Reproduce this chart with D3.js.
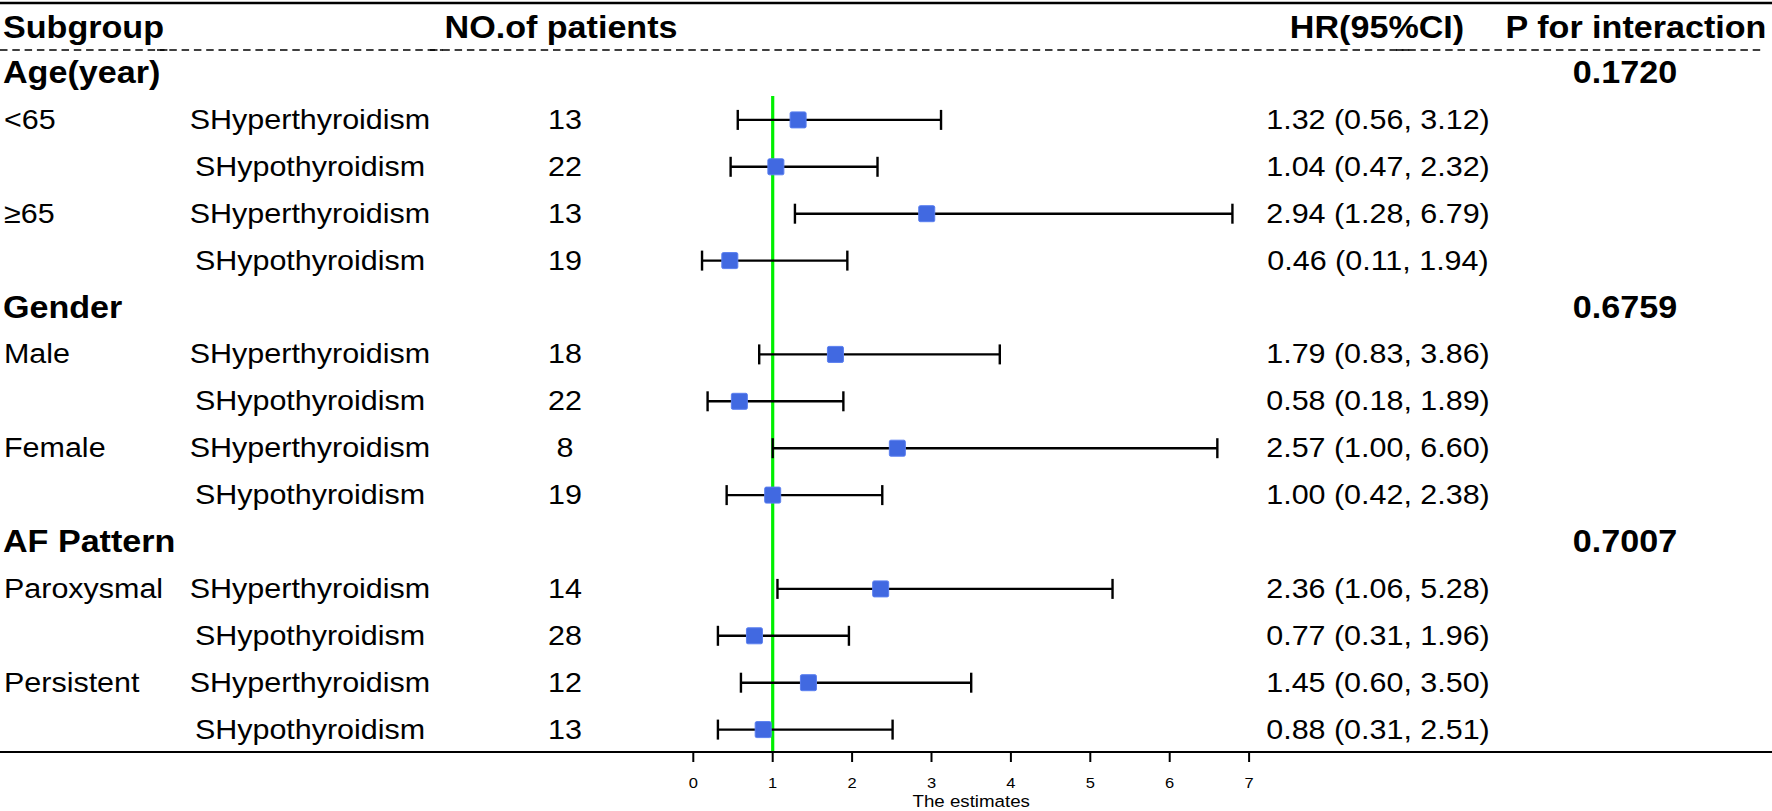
<!DOCTYPE html>
<html>
<head>
<meta charset="utf-8">
<script src="https://cdn.jsdelivr.net/npm/d3@7"></script>
<style>
  html, body { margin: 0; padding: 0; background: #fff; }
  svg { display: block; font-family: "Liberation Sans", Arial, sans-serif; }
</style>
</head>
<body>
<script>
// chart data
var groups = ["Age(year)", "Gender", "AF Pattern"];
var pInteraction = ["0.1720", "0.6759", "0.7007"];
var levels = ["<65", "\u226565", "Male", "Female", "Paroxysmal", "Persistent"];
var thyroid = ["SHyperthyroidism", "SHypothyroidism"];
var patients = [13, 22, 13, 19, 18, 22, 8, 19, 14, 28, 12, 13];
var hr    = [1.32, 1.04, 2.94, 0.46, 1.79, 0.58, 2.57, 1.00, 2.36, 0.77, 1.45, 0.88];
var lower = [0.56, 0.47, 1.28, 0.11, 0.83, 0.18, 1.00, 0.42, 1.06, 0.31, 0.60, 0.31];
var upper = [3.12, 2.32, 6.79, 1.94, 3.86, 1.89, 6.60, 2.38, 5.28, 1.96, 3.50, 2.51];
var ticks = [0, 1, 2, 3, 4, 5, 6, 7];
var headers = ["Subgroup", "NO.of patients", "HR(95%CI)", "P for interaction"];

var W = 1772, H = 811;
var sx = 1.1; // text in the reference is a bit wider than tall

// build the table rows
var rows = [];
groups.forEach(function(g, gi) {
  rows.push({ type: "group", label: g, p: pInteraction[gi] });
  for (var li = 0; li < 2; li++) {
    for (var ti = 0; ti < 2; ti++) {
      var k = gi * 4 + li * 2 + ti;
      rows.push({
        type: "item",
        level: ti === 0 ? levels[gi * 2 + li] : "",
        thy: thyroid[ti],
        n: patients[k], hr: hr[k], lo: lower[k], hi: upper[k]
      });
    }
  }
});

var svg = d3.select("body").append("svg")
  .attr("width", W)
  .attr("height", H);

var x = d3.scaleLinear().domain([0, 7]).range([693.3, 693.3 + 7 * 79.4]);
var y = d3.scaleLinear().domain([0, rows.length - 1]).range([72, 72 + (rows.length - 1) * 46.9]);
var axisY = 752;

function txt(g, s, px, py, size, bold, anchor) {
  return g.append("text")
    .attr("transform", "translate(" + px + "," + py + ") scale(" + sx + ",1)")
    .attr("text-anchor", anchor || "start")
    .style("font-size", size + "px")
    .style("font-weight", bold ? "bold" : "normal")
    .attr("fill", "#000")
    .text(s);
}

// top rule
svg.append("line")
  .attr("x1", 0).attr("x2", W).attr("y1", 3).attr("y2", 3)
  .attr("stroke", "#000").attr("stroke-width", 2.5);

// header
var hdr = svg.append("g");
txt(hdr, headers[0], 3, 38, 31, true, "start");
txt(hdr, headers[1], 561, 38, 31, true, "middle");
txt(hdr, headers[2], 1377, 38, 31, true, "middle");
txt(hdr, headers[3], 1636, 38, 31, true, "middle");

// dashed line under header (one per column, so they overlap a little)
[[0, 172], [157, 443], [430, 1413], [1396, 1762]].forEach(function(s) {
  svg.append("line")
    .attr("x1", s[0]).attr("x2", s[1]).attr("y1", 50).attr("y2", 50)
    .attr("stroke", "#000").attr("stroke-width", 1.5)
    .attr("stroke-dasharray", "7.5,4.8");
});

// reference line at 1
svg.append("line")
  .attr("x1", x(1)).attr("x2", x(1))
  .attr("y1", 96).attr("y2", axisY)
  .attr("stroke", "#00f000").attr("stroke-width", 3.2);

// text columns
var tbl = svg.append("g");
rows.forEach(function(r, i) {
  var yy = y(i);
  if (r.type === "group") {
    txt(tbl, r.label, 3, yy + 11, 31, true, "start");
    txt(tbl, r.p, 1625, yy + 11, 31, true, "middle");
  } else {
    if (r.level) txt(tbl, r.level, 4, yy + 10, 27.7, false, "start");
    txt(tbl, r.thy, 310, yy + 10, 27.7, false, "middle");
    txt(tbl, r.n, 565, yy + 10, 27.7, false, "middle");
    txt(tbl, r.hr.toFixed(2) + " (" + r.lo.toFixed(2) + ", " + r.hi.toFixed(2) + ")",
      1378, yy + 10, 27.7, false, "middle");
  }
});

// error bars and markers
var items = rows.map(function(r, i) { return { r: r, i: i }; })
  .filter(function(d) { return d.r.type === "item"; });

var bars = svg.append("g").attr("stroke", "#000").attr("stroke-width", 2.4);
items.forEach(function(d) {
  var yy = y(d.i) + 1;
  bars.append("line")
    .attr("x1", x(d.r.lo)).attr("x2", x(d.r.hi)).attr("y1", yy).attr("y2", yy);
  [d.r.lo, d.r.hi].forEach(function(v) {
    bars.append("line")
      .attr("x1", x(v)).attr("x2", x(v)).attr("y1", yy - 10).attr("y2", yy + 10);
  });
});

svg.append("g").selectAll("rect")
  .data(items)
  .enter()
  .append("rect")
  .attr("x", function(d) { return x(d.r.hr) - 8; })
  .attr("y", function(d) { return y(d.i) + 1 - 8; })
  .attr("width", 16).attr("height", 16)
  .attr("rx", 1.5)
  .attr("fill", "#4169E1")
  .attr("stroke", "#5a7ff0").attr("stroke-width", 1);

// bottom rule / x axis
svg.append("line")
  .attr("x1", 0).attr("x2", W).attr("y1", axisY).attr("y2", axisY)
  .attr("stroke", "#000").attr("stroke-width", 2.2);

var ax = svg.append("g");
ticks.forEach(function(t) {
  ax.append("line")
    .attr("x1", x(t)).attr("x2", x(t)).attr("y1", axisY).attr("y2", axisY + 10)
    .attr("stroke", "#000").attr("stroke-width", 2);
  txt(ax, t, x(t), 788, 15, false, "middle");
});
txt(ax, "The estimates", x(3.5), 807, 17, false, "middle");
</script>
</body>
</html>
